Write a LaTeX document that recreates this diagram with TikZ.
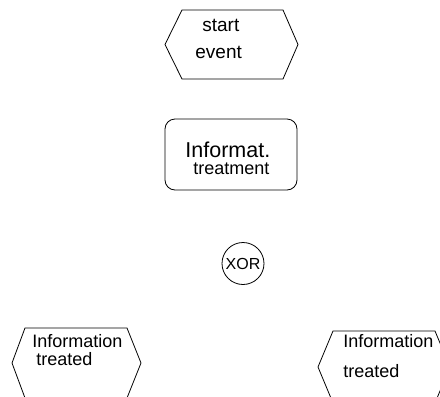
\documentclass[tikz,border=0pt]{standalone}
\usepackage{fontspec}
\setmainfont{Liberation Sans}
\usetikzlibrary{positioning}

\begin{document}
\begin{tikzpicture}[x=1pt,y=-1pt,line width=0.8pt,
    txt/.style={inner sep=0pt,anchor=base west},
    fs/.style={font=\fontsize{#1}{#1}\selectfont}]
  \useasboundingbox (0,0) rectangle (440,397);
  \clip (0,0) rectangle (440,397);
  % start event
  \draw (182,10) -- (283,10) -- (298,44.5) -- (283,79) -- (182,79) -- (165,44.5) -- cycle;
  \node[txt,fs=19] (start) at (202,31) {start};
  \node[txt,fs=19] (event) at (195,58) {event};
  % function
  \draw[rounded corners=10pt] (165,119) rectangle (297,190);
  \node[txt,fs=21.5] (informat) at (185,157) {Informat.};
  \node[txt,fs=18] (treatment) at (193,174) {treatment};
  % connector
  \node[circle,draw,minimum size=42pt,inner sep=0pt,fs=16] (xor) at (243,263.5) {XOR};
  % end events
  \draw (25,328) -- (127,328) -- (141,363) -- (127,398) -- (25,398) -- (12,363) -- cycle;
  \node[txt,fs=18] (infoL) at (32,347) {Information};
  \node[txt,fs=18] (treatedL) at (36,365) {treated};
  \draw (333,331) -- (435,331) -- (450,367) -- (435,403) -- (333,403) -- (318,367) -- cycle;
  \node[txt,fs=18] (infoR) at (343,347) {Information};
  \node[txt,fs=18] (treatedR) at (343,377) {treated};
\end{tikzpicture}
\end{document}
